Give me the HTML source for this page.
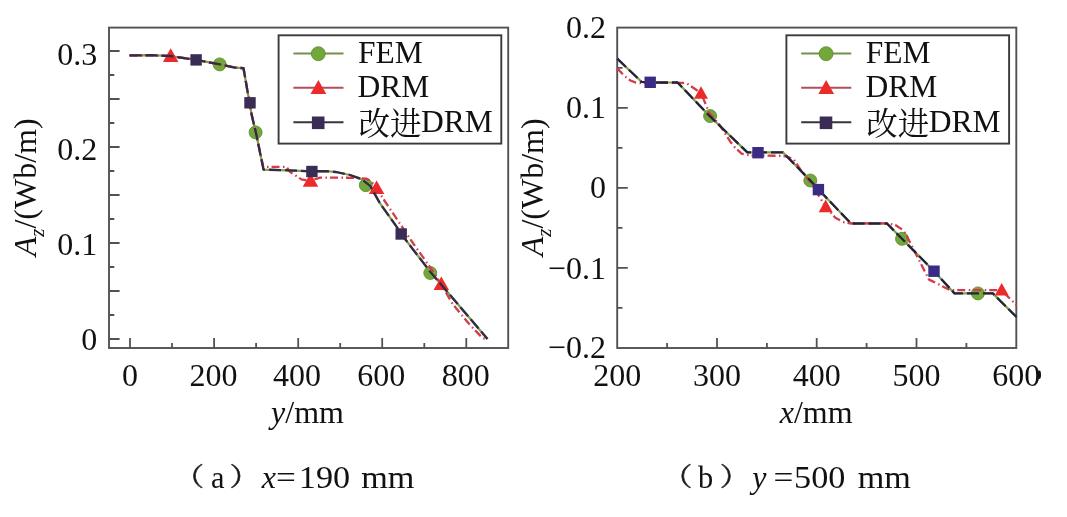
<!DOCTYPE html>
<html><head><meta charset="utf-8"><title>A_z plots</title>
<style>
html,body{margin:0;padding:0;background:#fff;}
body{width:1067px;height:517px;overflow:hidden;}
svg{display:block;}
text{font-family:"Liberation Serif","Noto Serif CJK SC",serif;fill:#111;}
</style></head><body>
<svg width="1067" height="517" viewBox="0 0 1067 517">
<rect width="1067" height="517" fill="#fff"/>
<rect x="109" y="27.6" width="399.2" height="320.4" fill="none" stroke="#525252" stroke-width="1.9"/>
<path d="M130.0,348 v-10 M172.0,348 v-5 M214.1,348 v-10 M256.1,348 v-5 M298.2,348 v-10 M340.2,348 v-5 M382.2,348 v-10 M424.3,348 v-5 M466.3,348 v-10 M109,339.0 h10.6 M109,315.0 h5.3 M109,291.0 h10.6 M109,267.0 h5.3 M109,243.0 h10.6 M109,219.0 h5.3 M109,195.0 h10.6 M109,171.0 h5.3 M109,147.0 h10.6 M109,123.0 h5.3 M109,99.0 h10.6 M109,75.0 h5.3 M109,51.0 h10.6" stroke="#525252" stroke-width="1.8" fill="none"/>
<rect x="617.2" y="27.6" width="399.0999999999999" height="320.4" fill="none" stroke="#525252" stroke-width="1.9"/>
<path d="M667.1,348 v-5 M717.0,348 v-10 M766.9,348 v-5 M816.7,348 v-10 M866.6,348 v-5 M916.5,348 v-10 M966.4,348 v-5 M617.2,307.8 h5.3 M617.2,267.8 h10.6 M617.2,227.8 h5.3 M617.2,187.8 h10.6 M617.2,147.8 h5.3 M617.2,107.8 h10.6 M617.2,67.8 h5.3" stroke="#525252" stroke-width="1.8" fill="none"/>
<path d="M129.5,55.4 L150,55.2 L170,56 L196,59.8 L220,64.4 L235,67.6 L243.5,68.2 L251.5,114 L256,133 L263.5,169.6 L287.6,170.3 L312,171.3 L326,171.2 L336,172 L350,175 L361,178.9 L370.2,185.9 L380.2,203.7 L396.7,226.8 L401.2,234 L430,271.5 L487.5,339" fill="none" stroke="#7aa34a" stroke-width="2.2" stroke-linejoin="round"/>
<circle cx="219.7" cy="64.4" r="6.5" fill="#72a83a" stroke="#5c8a2c" stroke-width="0.8"/>
<circle cx="255.6" cy="132.4" r="6.5" fill="#72a83a" stroke="#5c8a2c" stroke-width="0.8"/>
<circle cx="365.8" cy="185.2" r="6.5" fill="#72a83a" stroke="#5c8a2c" stroke-width="0.8"/>
<circle cx="430.3" cy="273" r="6.5" fill="#72a83a" stroke="#5c8a2c" stroke-width="0.8"/>
<path d="M129.5,55.6 L150,55.4 L170,56 L196,59.8 L220,64.4 L235,67.6 L243.5,68.2 L251.5,114 L256,133 L263.3,166.9 L286.5,166.9 L290,171.8 L301.4,179.4 L310,181 L320,177.6 L355,177.8 L366,178.6 L371,181 L376.6,188 L384,200 L403.6,229.1 L412.9,243 L432,270 L441,284 L452.6,304 L470,325 L482.8,338.3 L487.5,339" fill="none" stroke="#d43c48" stroke-width="2.3" stroke-dasharray="8 3.5 1.5 3" stroke-linejoin="round"/>
<path d="M170.7,48.3 L178.45,61.9 L162.95,61.9 Z" fill="#ec2a2a"/>
<path d="M310.5,173.20000000000002 L318.25,186.8 L302.75,186.8 Z" fill="#ec2a2a"/>
<path d="M376.6,180.5 L384.35,194.1 L368.85,194.1 Z" fill="#ec2a2a"/>
<path d="M441.3,276.5 L449.05,290.1 L433.55,290.1 Z" fill="#ec2a2a"/>
<path d="M129.5,55.4 L150,55.2 L170,56 L196,59.8 L220,64.4 L235,67.6 L243.5,68.2 L251.5,114 L256,133 L263.5,169.6 L287.6,170.3 L312,171.3 L326,171.2 L336,172 L350,175 L361,178.9 L370.2,185.9 L380.2,203.7 L396.7,226.8 L401.2,234 L430,271.5 L487.5,339" fill="none" stroke="#35294a" stroke-width="2.3" stroke-dasharray="12 4" stroke-linejoin="round"/>
<rect x="190.4" y="54.199999999999996" width="11.4" height="11.4" fill="#3a2d55"/>
<rect x="244.3" y="97.1" width="11.4" height="11.4" fill="#3a2d55"/>
<rect x="306.2" y="165.8" width="11.4" height="11.4" fill="#3a2d55"/>
<rect x="395.5" y="228.3" width="11.4" height="11.4" fill="#3a2d55"/>
<path d="M617.3,58.7 L641.5,81.8 L650.4,82.5 L677.6,82.5 L709.3,115.7 L747.4,152.4 L783,152.4 L810.3,180.5 L818.5,189.5 L851,223.5 L887,223.5 L902,238.8 L934,271.2 L954.5,293.4 L992.8,293.4 L1016.5,317" fill="none" stroke="#7aa34a" stroke-width="2.2" stroke-linejoin="round"/>
<circle cx="710.1" cy="116" r="6.5" fill="#72a83a" stroke="#5c8a2c" stroke-width="0.8"/>
<circle cx="810.3" cy="180.5" r="6.5" fill="#72a83a" stroke="#5c8a2c" stroke-width="0.8"/>
<circle cx="902" cy="238.8" r="6.5" fill="#72a83a" stroke="#5c8a2c" stroke-width="0.8"/>
<circle cx="977.9" cy="293.4" r="6.5" fill="#72a83a" stroke="#5c8a2c" stroke-width="0.8"/>
<path d="M617.3,68.4 L624.6,76.1 L630.4,80.5 L636,82.6 L641,83.2 L650.4,82.8 L686,82.8 L701,93 L709.3,113 L720,125.5 L730,141.2 L735.4,148.1 L741.6,153.6 L750,155.5 L783,155.8 L788,157.2 L793.4,159 L800,169 L810.3,182 L825.5,206.5 L835.3,217.7 L843,222 L850,223.3 L887,223.3 L895.3,225 L903,230 L906,234.5 L929,279.6 L940,285 L950,290.2 L1001.3,290.2 L1016.5,305" fill="none" stroke="#d43c48" stroke-width="2.3" stroke-dasharray="8 3.5 1.5 3" stroke-linejoin="round"/>
<path d="M701,86.2 L708.0,98.8 L694.0,98.8 Z" fill="#ec2a2a"/>
<path d="M825.7,199.6 L832.7,212.2 L818.7,212.2 Z" fill="#ec2a2a"/>
<path d="M1001.7,283.0 L1008.7,295.6 L994.7,295.6 Z" fill="#ec2a2a"/>
<path d="M617.3,58.7 L641.5,81.8 L650.4,82.5 L677.6,82.5 L709.3,115.7 L747.4,152.4 L783,152.4 L810.3,180.5 L818.5,189.5 L851,223.5 L887,223.5 L902,238.8 L934,271.2 L954.5,293.4 L992.8,293.4 L1016.5,317" fill="none" stroke="#24203e" stroke-width="2.3" stroke-dasharray="12 4" stroke-linejoin="round"/>
<rect x="644.5" y="76.6" width="11.4" height="11.4" fill="#3a2c85"/>
<rect x="752.3" y="147.0" width="11.4" height="11.4" fill="#3a2c85"/>
<rect x="812.6999999999999" y="183.9" width="11.4" height="11.4" fill="#3a2c85"/>
<rect x="928.3" y="265.5" width="11.4" height="11.4" fill="#3a2c85"/>
<rect x="278.6" y="35.3" width="222.7" height="108.3" fill="#fff" stroke="#3a3a3a" stroke-width="1.9"/>
<path d="M293.4,53.5 H343.5" stroke="#74924a" stroke-width="1.9"/>
<path d="M293.4,87.8 H343.5" stroke="#b24e5c" stroke-width="1.9"/>
<path d="M293.4,122.3 H343.5" stroke="#37333f" stroke-width="1.9"/>
<circle cx="318.3" cy="53.7" r="7.0" fill="#72a83a" stroke="#5c8a2c" stroke-width="0.8"/>
<path d="M318.4,80.05 L326.29999999999995,93.95 L310.5,93.95 Z" fill="#ec2a2a"/>
<rect x="311.9" y="116.5" width="12.6" height="12.6" fill="#3a2d55"/>
<text x="358.0" y="63.3" font-size="31.5" text-anchor="start"  style="">FEM</text>
<text x="357.6" y="97.3" font-size="31.5" text-anchor="start"  style="">DRM</text>
<text x="358.4" y="135.2" font-size="31.5" style="font-family:'Noto Serif CJK SC',serif">改进</text>
<text x="421.0" y="131.8" font-size="31.5" text-anchor="start"  style="">DRM</text>
<rect x="786.4000000000001" y="35.3" width="222.7" height="108.3" fill="#fff" stroke="#3a3a3a" stroke-width="1.9"/>
<path d="M801.2,53.5 H851.3" stroke="#74924a" stroke-width="1.9"/>
<path d="M801.2,87.8 H851.3" stroke="#b24e5c" stroke-width="1.9"/>
<path d="M801.2,122.3 H851.3" stroke="#37333f" stroke-width="1.9"/>
<circle cx="826.1" cy="53.7" r="7.0" fill="#72a83a" stroke="#5c8a2c" stroke-width="0.8"/>
<path d="M826.2,80.05 L834.1,93.95 L818.3000000000001,93.95 Z" fill="#ec2a2a"/>
<rect x="819.7" y="116.5" width="12.6" height="12.6" fill="#3a2d55"/>
<text x="865.8" y="63.3" font-size="31.5" text-anchor="start"  style="">FEM</text>
<text x="865.4000000000001" y="97.3" font-size="31.5" text-anchor="start"  style="">DRM</text>
<text x="866.2" y="135.2" font-size="31.5" style="font-family:'Noto Serif CJK SC',serif">改进</text>
<text x="928.8" y="131.8" font-size="31.5" text-anchor="start"  style="">DRM</text>
<text x="97.3" y="64.7" font-size="32" text-anchor="end"  style="">0.3</text>
<text x="97.3" y="159.8" font-size="32" text-anchor="end"  style="">0.2</text>
<text x="97.3" y="255.1" font-size="32" text-anchor="end"  style="">0.1</text>
<text x="97.3" y="349.7" font-size="32" text-anchor="end"  style="">0</text>
<text x="130.0" y="386.3" font-size="32" text-anchor="middle"  style="">0</text>
<text x="213.4" y="386.3" font-size="32" text-anchor="middle"  style="">200</text>
<text x="296.9" y="386.3" font-size="32" text-anchor="middle"  style="">400</text>
<text x="381.2" y="386.3" font-size="32" text-anchor="middle"  style="">600</text>
<text x="465.8" y="386.3" font-size="32" text-anchor="middle"  style="">800</text>
<text x="605.9" y="37.9" font-size="32" text-anchor="end"  style="">0.2</text>
<text x="605.9" y="118.0" font-size="32" text-anchor="end"  style="">0.1</text>
<text x="605.9" y="198.3" font-size="32" text-anchor="end"  style="">0</text>
<text x="605.9" y="278.9" font-size="32" text-anchor="end"  style="">−0.1</text>
<text x="605.9" y="358.3" font-size="32" text-anchor="end"  style="">−0.2</text>
<text x="617.2" y="386.3" font-size="32" text-anchor="middle"  style="">200</text>
<text x="716.97" y="386.3" font-size="32" text-anchor="middle"  style="">300</text>
<text x="816.74" y="386.3" font-size="32" text-anchor="middle"  style="">400</text>
<text x="916.51" y="386.3" font-size="32" text-anchor="middle"  style="">500</text>
<text x="1016.2800000000001" y="386.3" font-size="32" text-anchor="middle"  style="">600</text>
<ellipse cx="1039.3" cy="374.8" rx="1.7" ry="4.3" fill="#111"/>
<text x="307.5" y="423.2" font-size="32" text-anchor="middle"  style=""><tspan font-style="italic">y</tspan>/mm</text>
<text x="816.2" y="423.2" font-size="32" text-anchor="middle"  style=""><tspan font-style="italic">x</tspan>/mm</text>
<text transform="translate(35.8,187.4) rotate(-90)" font-size="32" text-anchor="middle"><tspan font-style="italic">A</tspan><tspan font-style="italic" font-size="21" dy="8">z</tspan><tspan dy="-8">/(Wb/m)</tspan></text>
<text transform="translate(543.4,187.4) rotate(-90)" font-size="32" text-anchor="middle"><tspan font-style="italic">A</tspan><tspan font-style="italic" font-size="21" dy="8">z</tspan><tspan dy="-8">/(Wb/m)</tspan></text>
<text transform="translate(173.65,486.4) scale(0.95,0.8)" font-size="32" style="font-family:'Noto Serif CJK SC',serif;stroke:#333;stroke-width:0.7">（</text>
<text transform="translate(210.95,487.8) scale(0.95,1.0)" font-size="32" style="">a</text>
<text transform="translate(229.60,486.4) scale(0.95,0.8)" font-size="32" style="font-family:'Noto Serif CJK SC',serif;stroke:#333;stroke-width:0.7">）</text>
<text transform="translate(261.80,487.8) scale(1.0,1.0)" font-size="32" font-style="italic" style="">x</text>
<text transform="translate(275.90,487.8) scale(1.1,1.0)" font-size="32" style="">=</text>
<text transform="translate(298.79,487.8) scale(1.07,1.0)" font-size="32" style="">190</text>
<text transform="translate(361.23,487.8) scale(1.07,1.0)" font-size="32" style="">mm</text>
<text transform="translate(662.05,486.4) scale(0.95,0.8)" font-size="32" style="font-family:'Noto Serif CJK SC',serif;stroke:#333;stroke-width:0.7">（</text>
<text transform="translate(698.05,487.8) scale(0.95,1.0)" font-size="32" style="">b</text>
<text transform="translate(719.80,486.4) scale(0.95,0.8)" font-size="32" style="font-family:'Noto Serif CJK SC',serif;stroke:#333;stroke-width:0.7">）</text>
<text transform="translate(752.20,487.8) scale(1.0,1.0)" font-size="32" font-style="italic" style="">y</text>
<text transform="translate(773.40,487.8) scale(1.1,1.0)" font-size="32" style="">=</text>
<text transform="translate(794.06,487.8) scale(1.07,1.0)" font-size="32" style="">500</text>
<text transform="translate(857.63,487.8) scale(1.07,1.0)" font-size="32" style="">mm</text>
</svg>
</body></html>
